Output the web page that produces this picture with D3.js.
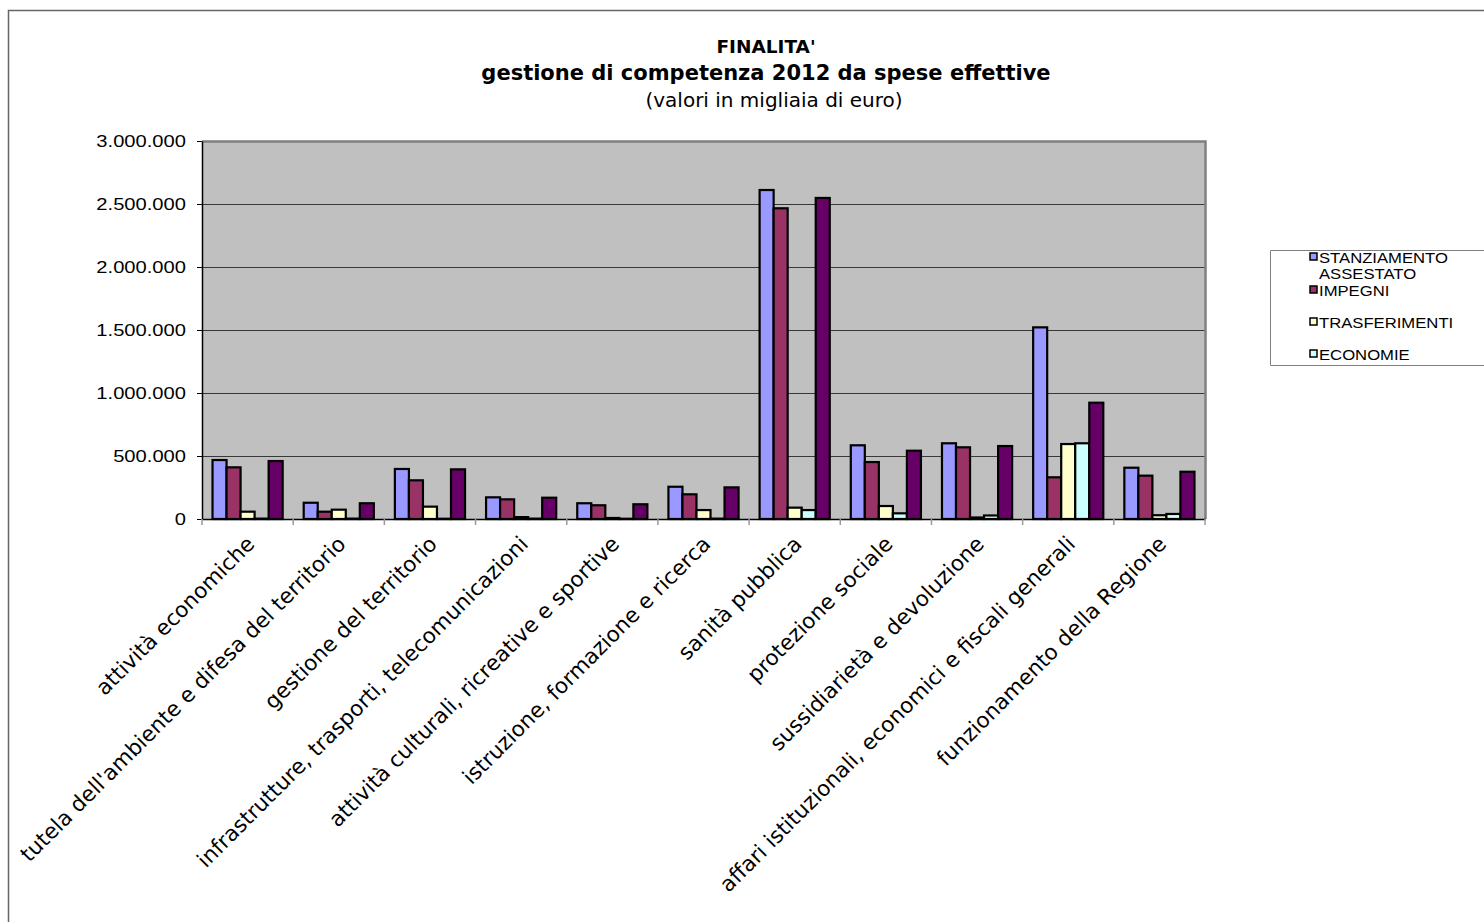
<!DOCTYPE html>
<html>
<head>
<meta charset="utf-8">
<script src="https://cdn.jsdelivr.net/npm/d3@7"></script>
<style>
  html, body { margin: 0; padding: 0; background: #fff; }
  svg { display: block; }
</style>
</head>
<body>
<svg id="chart" width="1484" height="922"></svg>
<script>
// ---- DATA (values in migliaia di euro) ----
const categories = [
  "attività economiche",
  "tutela dell'ambiente e difesa del territorio",
  "gestione del territorio",
  "infrastrutture, trasporti, telecomunicazioni",
  "attività culturali, ricreative e sportive",
  "istruzione, formazione e ricerca",
  "sanità pubblica",
  "protezione sociale",
  "sussidiarietà e devoluzione",
  "affari istituzionali, economici e fiscali generali",
  "funzionamento della Regione"
];
const seriesNames = ["STANZIAMENTO ASSESTATO", "IMPEGNI", "TRASFERIMENTI", "ECONOMIE", "PAGAMENTI"];
const legendNames = ["STANZIAMENTO ASSESTATO", "IMPEGNI", "TRASFERIMENTI", "ECONOMIE"];
const stanziamento = [468000, 129000, 397000, 172000, 125000, 256000, 2611000, 585000, 601000, 1521000, 407000];
const impegni      = [410000,  58000, 307000, 156000, 109000, 196000, 2466000, 452000, 569000,  331000, 344000];
const trasferimenti= [ 58000,  74000,  98000,  15000,   8000,  71000,   90000, 103000,  12000,  595000,  30000];
const economie     = [  3000,   3000,   2000,   3000,   2000,   3000,   71000,  45000,  28000,  601000,  40000];
const pagamenti    = [460000, 125000, 394000, 169000, 117000, 251000, 2548000, 542000, 579000,  923000, 375000];
const seriesValues = [stanziamento, impegni, trasferimenti, economie, pagamenti];
const yTicks = [0, 500000, 1000000, 1500000, 2000000, 2500000, 3000000];
const titleLines = ["FINALITA'", "gestione di competenza 2012 da spese effettive", "(valori in migliaia di euro)"];

// ---- STYLE ----
const colors = ["#9999FF", "#993366", "#FFFFCC", "#CCFFFF", "#660066"];
const plot = { left: 202, right: 1205, top: 141, bottom: 519 };

const svg = d3.select("#chart");

// outer chart border
svg.append("path")
  .attr("d", `M8.5,930 V10.5 H1500`)
  .attr("fill", "none").attr("stroke", "#666").attr("stroke-width", 1.5);

// title
const tt = svg.append("g").attr("font-family", "'DejaVu Sans', Verdana, sans-serif").attr("fill", "#000");
tt.append("text").attr("x", 766).attr("y", 53).attr("text-anchor", "middle")
  .attr("font-size", 18.5).attr("font-weight", "bold").text(titleLines[0]);
tt.append("text").attr("x", 766).attr("y", 80).attr("text-anchor", "middle")
  .attr("font-size", 21).attr("font-weight", "bold").text(titleLines[1]);
tt.append("text").attr("x", 774).attr("y", 107).attr("text-anchor", "middle")
  .attr("font-size", 20).text(titleLines[2]);

// scales
const x0 = d3.scaleBand().domain(categories).range([plot.left, plot.right]).padding(0);
const bw = x0.bandwidth();
const gapHalf = bw * 0.75 / 6.5;
const x1 = d3.scaleBand().domain(seriesNames).range([gapHalf, bw - gapHalf]).padding(0);
const y = d3.scaleLinear().domain([0, 3000000]).range([plot.bottom, plot.top]);

// plot background
svg.append("rect")
  .attr("x", plot.left).attr("y", plot.top)
  .attr("width", plot.right - plot.left).attr("height", plot.bottom - plot.top)
  .attr("fill", "#C0C0C0");

// gridlines
svg.append("g").selectAll("line").data(yTicks.filter(d => d > 0)).join("line")
  .attr("x1", plot.left).attr("x2", plot.right)
  .attr("y1", d => Math.round(y(d)) + 0.5).attr("y2", d => Math.round(y(d)) + 0.5)
  .attr("stroke", "#383838").attr("stroke-width", 1);

// plot border top/right (gray)
svg.append("path")
  .attr("d", `M${plot.left},${plot.top + 0.5} H${plot.right + 0.5} V${plot.bottom}`)
  .attr("fill", "none").attr("stroke", "#808080").attr("stroke-width", 2.5);

// bars
const groups = svg.append("g").selectAll("g").data(categories).join("g")
  .attr("transform", d => `translate(${x0(d)},0)`);
groups.selectAll("rect")
  .data((c, i) => seriesNames.map((s, j) => ({ s, j, v: seriesValues[j][i] })))
  .join("rect")
  .attr("x", d => x1(d.s))
  .attr("width", x1.bandwidth())
  .attr("y", d => y(d.v))
  .attr("height", d => y(0) - y(d.v))
  .attr("fill", d => colors[d.j])
  .attr("stroke", "#000").attr("stroke-width", 2.2);

// y axis
const fmt = d => d3.format(",")(d).replace(/,/g, ".");
const yAxis = svg.append("g").attr("transform", `translate(${plot.left},0)`)
  .call(d3.axisLeft(y).tickValues(yTicks).tickFormat(fmt).tickSize(5).tickSizeOuter(0).tickPadding(11));
yAxis.select(".domain").attr("stroke", "#000").attr("stroke-width", 1.5);
yAxis.selectAll(".tick line").attr("stroke", "#000");
yAxis.selectAll(".tick text")
  .attr("font-family", "'Liberation Sans', Arial, sans-serif").attr("font-size", 16).attr("fill", "#000")
  .each(function () {
    const t = d3.select(this);
    const xv = +t.attr("x");
    t.attr("x", 0).attr("transform", `translate(${xv},0) scale(1.26,1)`);
  });

// x axis
const xAxis = svg.append("g").attr("transform", `translate(0,${plot.bottom})`)
  .call(d3.axisBottom(x0).tickValues([]).tickSizeOuter(0));
xAxis.select(".domain").attr("stroke", "#000").attr("stroke-width", 1.5);
const bounds = categories.map(c => x0(c)).concat([plot.right]);
xAxis.selectAll(".bt").data(bounds).join("line").attr("class", "bt")
  .attr("x1", d => d).attr("x2", d => d).attr("y1", 0).attr("y2", 6)
  .attr("stroke", "#999").attr("stroke-width", 1.5);

// category labels
svg.append("g").selectAll("text").data(categories).join("text")
  .attr("transform", d => `translate(${x0(d) + bw / 2 + 3},${plot.bottom + 21}) rotate(-45)`)
  .attr("text-anchor", "end").attr("dy", "0.35em")
  .attr("font-family", "'DejaVu Sans', Verdana, sans-serif").attr("font-size", 21.5).attr("fill", "#000")
  .text(d => d);

// legend
const lg = svg.append("g");
lg.append("path").attr("d", "M1500,250.5 H1270.5 V365.5 H1500")
  .attr("fill", "#fff").attr("stroke", "#808080").attr("stroke-width", 1);
const legendY = [257, 290, 322, 354];
const li = lg.selectAll("g.item").data(legendNames).join("g").attr("class", "item")
  .attr("transform", (d, i) => `translate(1310,${legendY[i]})`);
li.append("rect").attr("x", 0).attr("y", -4).attr("width", 7).attr("height", 7)
  .attr("fill", (d, i) => colors[i]).attr("stroke", "#000").attr("stroke-width", 1.5);
li.append("text")
  .attr("font-family", "'Liberation Sans', Arial, sans-serif").attr("font-size", 14.5).attr("fill", "#000")
  .attr("transform", "translate(9,0) scale(1.15,1)")
  .each(function (d) {
    const words = d.split(" ");
    const t = d3.select(this);
    words.forEach((w, k) => {
      t.append("tspan").attr("x", 0).attr("dy", k === 0 ? "0.4em" : "1.1em").text(w);
    });
  });
</script>
</body>
</html>
